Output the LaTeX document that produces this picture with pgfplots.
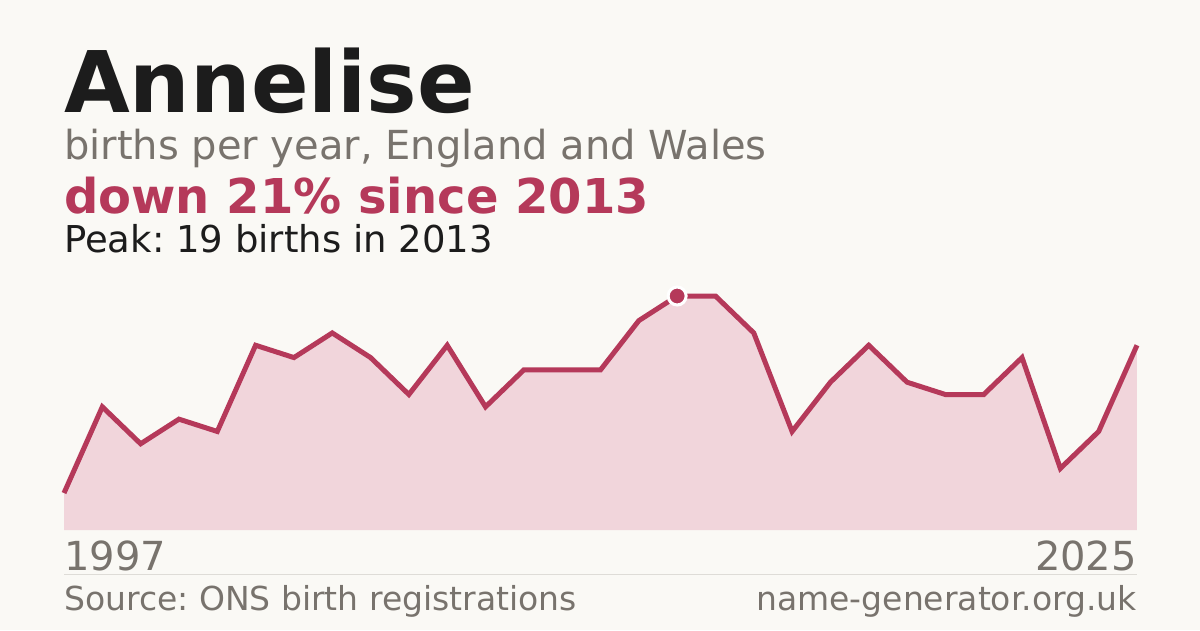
\documentclass[border=0pt]{standalone}
\usepackage{pgfplots}
\pgfplotsset{compat=1.18}
\usepackage{fontspec}
\setmainfont{DejaVu Sans}
\frenchspacing
\definecolor{bg}{HTML}{FAF9F5}
\definecolor{accent}{HTML}{B5395A}
\definecolor{areafill}{HTML}{F1D5DB}
\definecolor{graytext}{HTML}{78736D}
\definecolor{titlecol}{HTML}{1C1C1C}
\definecolor{rule}{HTML}{DEDCD7}
\pgfplotstableread{
year births
1997 3
1998 10
1999 7
2000 9
2001 8
2002 15
2003 14
2004 16
2005 14
2006 11
2007 15
2008 10
2009 13
2010 13
2011 13
2012 17
2013 19
2014 19
2015 16
2016 8
2017 12
2018 15
2019 12
2020 11
2021 11
2022 14
2023 5
2024 8
2025 15
}\births
\pgfplotstableread{
year births
2013 19
}\peak
\begin{document}
\begin{tikzpicture}[x=1pt,y=1pt]
\useasboundingbox (0,0) rectangle (1200,630);
\fill[bg] (0,0) rectangle (1200,630);
\begin{axis}[
  at={(64pt,100pt)}, anchor=south west,
  scale only axis, width=1073pt, height=234pt,
  xmin=1997, xmax=2025, ymin=0, ymax=19,
  axis lines=none, ticks=none, clip=false,
]
\addplot[draw=none, fill=areafill] table[x=year,y=births] {\births} \closedcycle;
\addplot[accent, line width=5pt, line join=miter, no markers] table[x=year,y=births] {\births};
\addplot[only marks, mark=*, mark size=9pt, mark options={fill=accent, draw=white, line width=3pt}] table[x=year,y=births] {\peak};
\end{axis}
\node[anchor=base west, inner sep=0, text=titlecol, font=\fontsize{85}{85}\selectfont\bfseries] at (64,517) {Annelise};
\node[anchor=base west, inner sep=0, text=graytext, font=\fontsize{40}{40}\selectfont] at (64,470) {births per year, England and Wales};
\node[anchor=base west, inner sep=0, text=accent, font=\fontsize{48}{48}\selectfont\bfseries] at (64,416) {down 21\% since 2013};
\node[anchor=base west, inner sep=0, text=titlecol, font=\fontsize{37}{37}\selectfont] at (64,377) {Peak: 19 births in 2013};
\node[anchor=base west, inner sep=0, text=graytext, font=\fontsize{40}{40}\selectfont] at (64,60) {1997};
\node[anchor=base east, inner sep=0, text=graytext, font=\fontsize{40}{40}\selectfont] at (1137,60) {2025};
\draw[rule, line width=1pt] (64,56) -- (1137,56);
\node[anchor=base west, inner sep=0, text=graytext, font=\fontsize{33}{33}\selectfont] at (64,20) {Source: ONS birth registrations};
\node[anchor=base east, inner sep=0, text=graytext, font=\fontsize{33}{33}\selectfont] at (1137,20) {name-generator.org.uk};
\end{tikzpicture}
\end{document}
